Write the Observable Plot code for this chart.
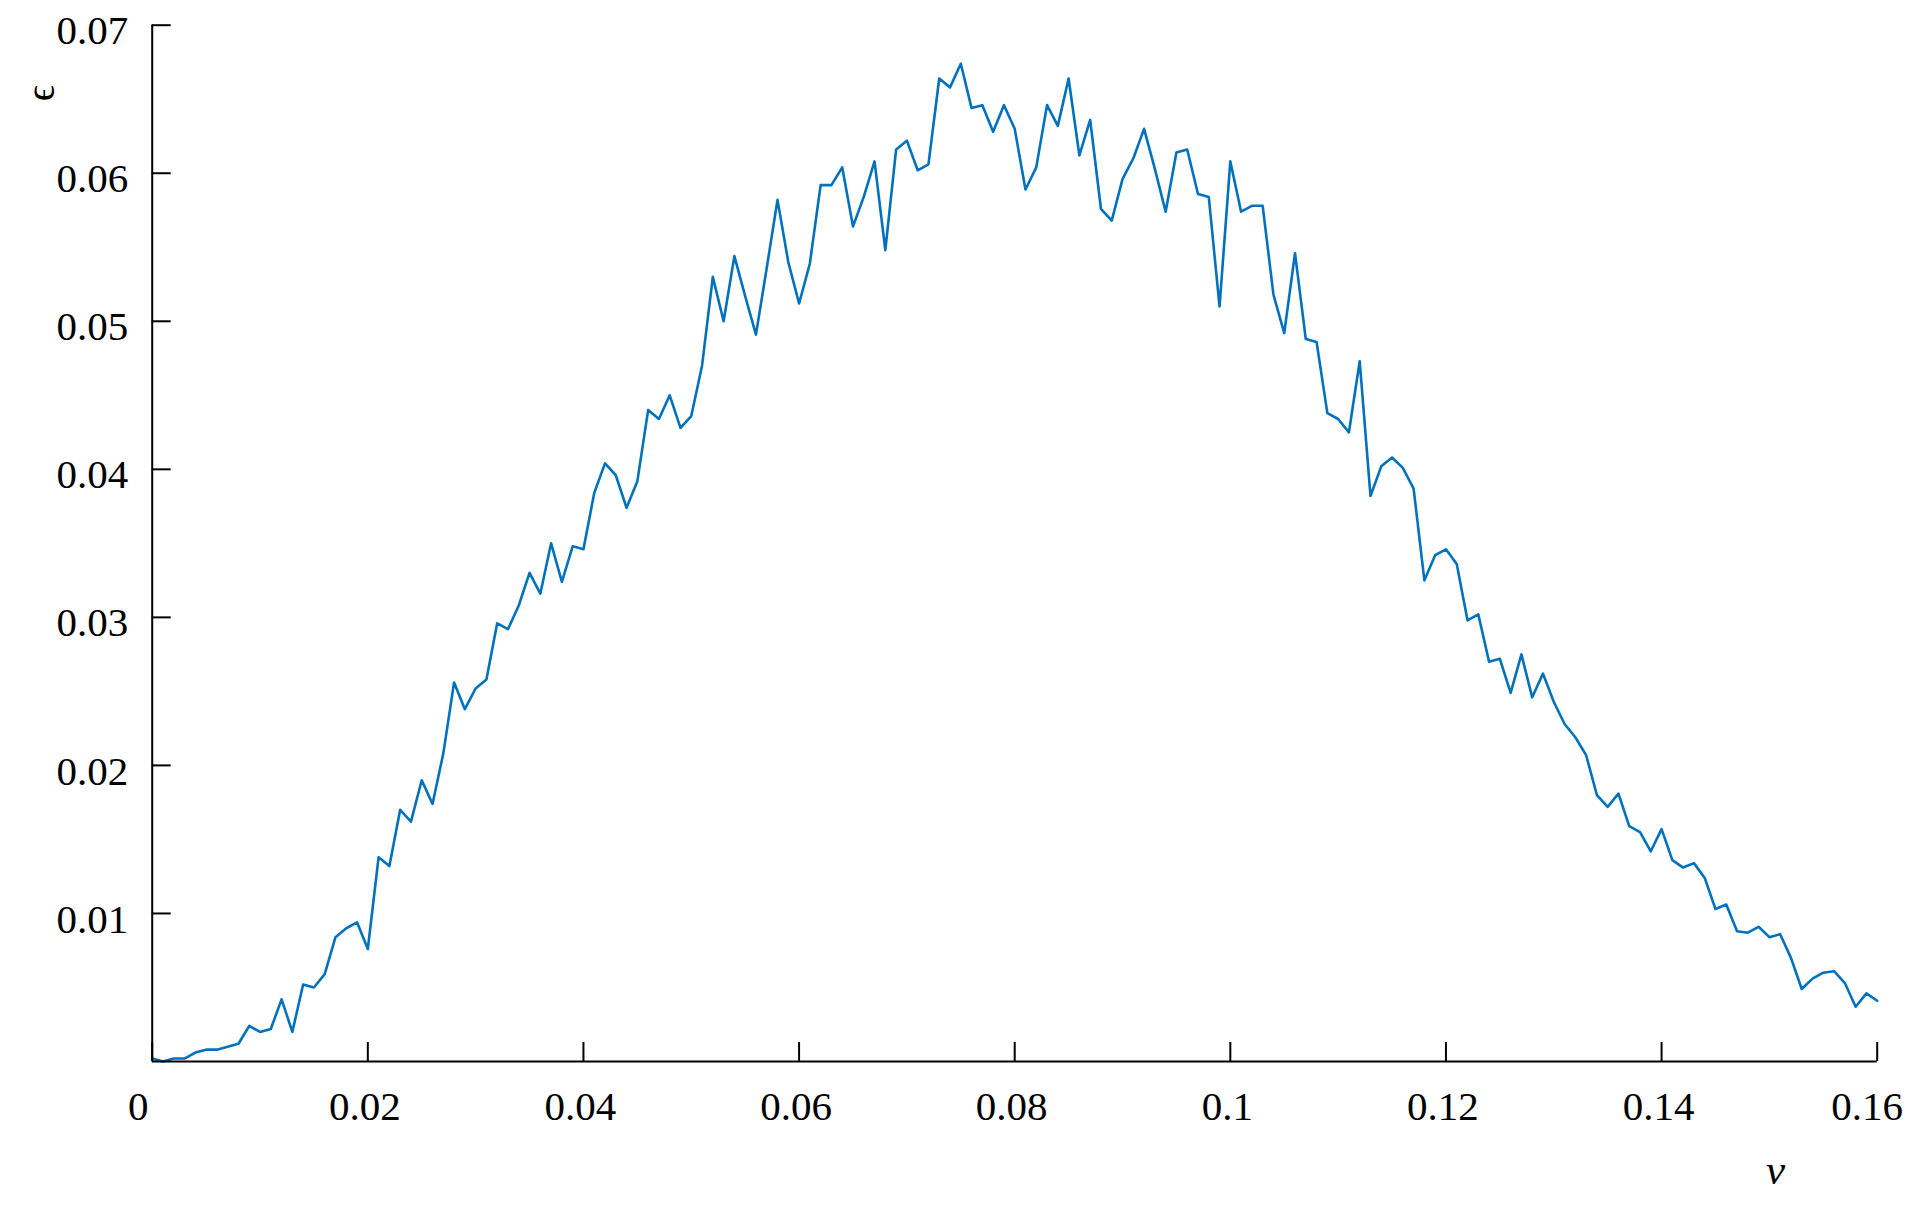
<!DOCTYPE html>
<html>
<head>
<meta charset="utf-8">
<script src="https://cdn.jsdelivr.net/npm/d3@7"></script>
<script src="https://cdn.jsdelivr.net/npm/@observablehq/plot@0.6"></script>
<style>
html, body { margin: 0; padding: 0; background: #fff; overflow: hidden; }
</style>
</head>
<body>
<div id="chart"></div>
<script>
// frequency v (x values)
const v = [
  0, 0.001, 0.002, 0.003, 0.004, 0.005, 0.006, 0.007, 0.008, 0.009,
  0.010, 0.011, 0.012, 0.013, 0.014, 0.015, 0.016, 0.017, 0.018, 0.019,
  0.020, 0.021, 0.022, 0.023, 0.024, 0.025, 0.026, 0.027, 0.028, 0.029,
  0.030, 0.031, 0.032, 0.033, 0.034, 0.035, 0.036, 0.037, 0.038, 0.039,
  0.040, 0.041, 0.042, 0.043, 0.044, 0.045, 0.046, 0.047, 0.048, 0.049,
  0.050, 0.051, 0.052, 0.053, 0.054, 0.055, 0.056, 0.057, 0.058, 0.059,
  0.060, 0.061, 0.062, 0.063, 0.064, 0.065, 0.066, 0.067, 0.068, 0.069,
  0.070, 0.071, 0.072, 0.073, 0.074, 0.075, 0.076, 0.077, 0.078, 0.079,
  0.080, 0.081, 0.082, 0.083, 0.084, 0.085, 0.086, 0.087, 0.088, 0.089,
  0.090, 0.091, 0.092, 0.093, 0.094, 0.095, 0.096, 0.097, 0.098, 0.099,
  0.100, 0.101, 0.102, 0.103, 0.104, 0.105, 0.106, 0.107, 0.108, 0.109,
  0.110, 0.111, 0.112, 0.113, 0.114, 0.115, 0.116, 0.117, 0.118, 0.119,
  0.120, 0.121, 0.122, 0.123, 0.124, 0.125, 0.126, 0.127, 0.128, 0.129,
  0.130, 0.131, 0.132, 0.133, 0.134, 0.135, 0.136, 0.137, 0.138, 0.139,
  0.140, 0.141, 0.142, 0.143, 0.144, 0.145, 0.146, 0.147, 0.148, 0.149,
  0.150, 0.151, 0.152, 0.153, 0.154, 0.155, 0.156, 0.157, 0.158, 0.159,
  0.160
];

// epsilon (y values)
const eps = [
  0.0002, 0.0000, 0.0002, 0.0002, 0.0006, 0.0008, 0.0008, 0.0010, 0.0012, 0.0024,
  0.0020, 0.0022, 0.0042, 0.0020, 0.0052, 0.0050, 0.0059, 0.0084, 0.0090, 0.0094,
  0.0076, 0.0138, 0.0132, 0.0170, 0.0162, 0.0190, 0.0174, 0.0208, 0.0256, 0.0238,
  0.0252, 0.0258, 0.0296, 0.0292, 0.0308, 0.0330, 0.0316, 0.0350, 0.0324, 0.0348,
  0.0346, 0.0384, 0.0404, 0.0396, 0.0374, 0.0392, 0.0440, 0.0434, 0.0450, 0.0428,
  0.0436, 0.0470, 0.0530, 0.0500, 0.0544, 0.0517, 0.0491, 0.0536, 0.0582, 0.0540,
  0.0512, 0.0539, 0.0592, 0.0592, 0.0604, 0.0564, 0.0584, 0.0608, 0.0548, 0.0616,
  0.0622, 0.0602, 0.0606, 0.0664, 0.0658, 0.0674, 0.0644, 0.0646, 0.0628, 0.0646,
  0.0630, 0.0589, 0.0604, 0.0646, 0.0632, 0.0664, 0.0612, 0.0636, 0.0576, 0.0568,
  0.0596, 0.0610, 0.0630, 0.0603, 0.0574, 0.0614, 0.0616, 0.0586, 0.0584, 0.0510,
  0.0608, 0.0574, 0.0578, 0.0578, 0.0518, 0.0492, 0.0546, 0.0488, 0.0486, 0.0438,
  0.0434, 0.0425, 0.0473, 0.0382, 0.0402, 0.0408, 0.0401, 0.0387, 0.0325, 0.0342,
  0.0346, 0.0336, 0.0298, 0.0302, 0.0270, 0.0272, 0.0249, 0.0275, 0.0246, 0.0262,
  0.0243, 0.0228, 0.0219, 0.0207, 0.0180, 0.0172, 0.0181, 0.0159, 0.0155, 0.0142,
  0.0157, 0.0136, 0.0131, 0.0134, 0.0124, 0.0103, 0.0106, 0.0088, 0.0087, 0.0091,
  0.0084, 0.0086, 0.0070, 0.0049, 0.0056, 0.0060, 0.0061, 0.0053, 0.0037, 0.0046,
  0.0041
];

// tick values
const xTicks = [0, 0.02, 0.04, 0.06, 0.08, 0.1, 0.12, 0.14, 0.16];
const xTickLabelsMid = [0.02, 0.04, 0.06, 0.08, 0.1, 0.12, 0.14];
const xTickLabelFirst = [0];
const xTickLabelLast = [0.16];
const yTicks = [0.01, 0.02, 0.03, 0.04, 0.05, 0.06, 0.07];
const xLabel = "v";
const yLabel = "\u03F5";

// pick the first installed Times-like serif font
function fontAvailable(name) {
  const c = document.createElement("canvas").getContext("2d");
  const s = "0.07 abcdefghijklmnopqrstuvwxyz";
  for (const base of ["monospace", "sans-serif"]) {
    c.font = `40px ${base}`;
    const w0 = c.measureText(s).width;
    c.font = `40px "${name}", ${base}`;
    if (c.measureText(s).width !== w0) return true;
  }
  return false;
}
const candidates = ["Liberation Serif", "Times New Roman", "Tinos", "Times", "Nimbus Roman", "Nimbus Roman No9 L", "FreeSerif", "Noto Serif", "DejaVu Serif Condensed", "DejaVu Serif"];
const chosen = candidates.find(fontAvailable) || "serif";
const family = `"${chosen}", serif`;
const isDejaVu = /DejaVu/.test(chosen);
const fs = isDejaVu ? 37 : 41;

const data = v.map((d, i) => ({v: d, eps: eps[i]}));
const fmt = d => String(+(+d).toFixed(2));

const chart = Plot.plot({
  width: 1912,
  height: 1205,
  marginLeft: 151.7,
  marginRight: 35.3,
  marginTop: 24.7,
  marginBottom: 144,
  style: {
    fontFamily: family,
    fontSize: fs + "px",
    color: "#000",
    background: "#fff",
    overflow: "visible"
  },
  x: {domain: [0, 0.16], label: null},
  y: {domain: [0, 0.07], label: null},
  marks: [
    Plot.line(data, {x: "v", y: "eps", stroke: "#0072BD", strokeWidth: 2.6}),
    Plot.ruleY([0], {stroke: "#000", strokeWidth: 2}),
    Plot.ruleX([0], {stroke: "#000", strokeWidth: 2}),
    // inward ticks
    Plot.axisX(xTicks, {tickSize: -19, tickFormat: () => "", strokeWidth: 2, label: null}),
    Plot.axisY(yTicks, {tickSize: -19, tickFormat: () => "", strokeWidth: 2, label: null}),
    // tick labels
    Plot.axisX(xTickLabelsMid, {tickSize: 0, tickPadding: 29, dx: -3, tickFormat: fmt, label: null}),
    Plot.axisX(xTickLabelFirst, {tickSize: 0, tickPadding: 29, dx: -14, tickFormat: fmt, label: null}),
    Plot.axisX(xTickLabelLast, {tickSize: 0, tickPadding: 29, dx: -10, tickFormat: fmt, label: null}),
    Plot.axisY(yTicks, {tickSize: 0, tickPadding: 24, dy: 6, tickFormat: fmt, label: null}),
    // axis titles
    Plot.text([xLabel], {text: d => d, frameAnchor: "bottom-right", dx: -92, dy: 122, fontStyle: "italic", fontSize: 43}),
    Plot.text([yLabel], {text: d => d, frameAnchor: "top-left", dx: -127, dy: 76, rotate: -90, fontSize: 40})
  ]
});
document.getElementById("chart").append(chart);
</script>
</body>
</html>
